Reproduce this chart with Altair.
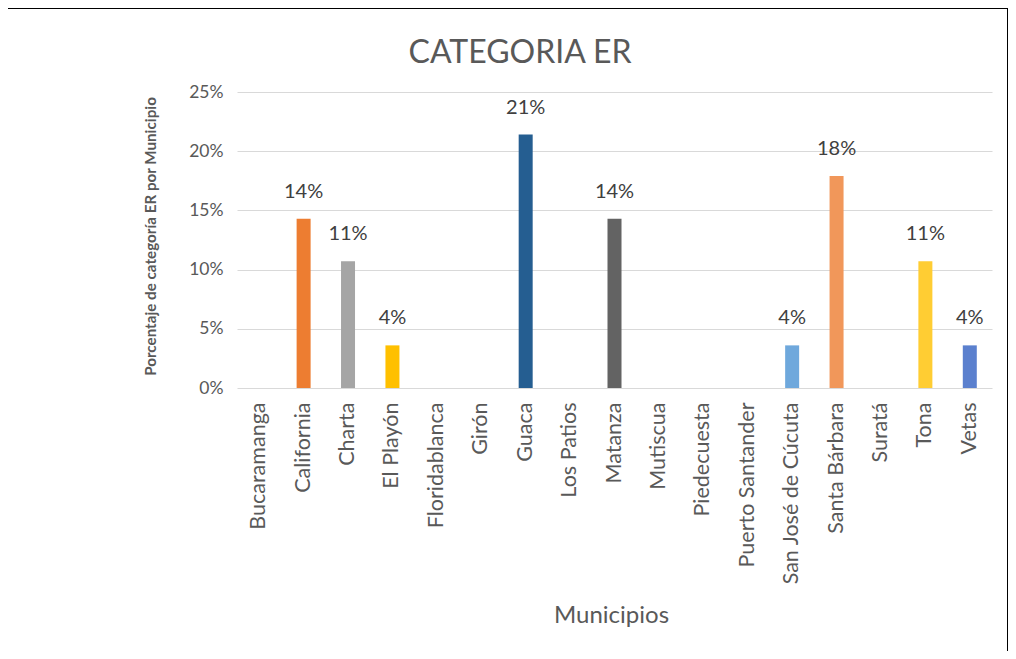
import altair as alt
import pandas as pd

municipios = ["Bucaramanga", "California", "Charta", "El Playón", "Floridablanca",
              "Girón", "Guaca", "Los Patios", "Matanza", "Mutiscua", "Piedecuesta",
              "Puerto Santander", "San José de Cúcuta", "Santa Bárbara", "Suratá",
              "Tona", "Vetas"]
valores = [0, 0.143, 0.107, 0.036, 0, 0, 0.214, 0, 0.143, 0, 0, 0, 0.036, 0.179, 0, 0.107, 0.036]
colores = ["#4472C4", "#ED7D31", "#A5A5A5", "#FFC000", "#5B9BD5", "#70AD47", "#255E91",
           "#9E480E", "#636363", "#997300", "#264478", "#43682B", "#6FA8DC", "#F1975A",
           "#B7B7B7", "#FFCD33", "#5B80CE"]
etiquetas = ["", "14%", "11%", "4%", "", "", "21%", "", "14%", "", "", "", "4%", "18%", "", "11%", "4%"]
titulo = ["CATEGORIA ER"]

df = pd.DataFrame({"Municipio": municipios, "Valor": valores, "Color": colores, "Etiqueta": etiquetas})

FONT = "Lato"
GRAY = "#595959"

x = alt.X("Municipio:N", sort=municipios,
          scale=alt.Scale(paddingInner=0.68, paddingOuter=0.34),
          axis=alt.Axis(title="Municipios", labelAngle=-90, labelFontSize=21.5,
                        labelColor=GRAY, labelFont=FONT, labelPadding=14, ticks=False,
                        labelLimit=400, domain=False, titleFont=FONT, titleFontSize=24,
                        titleColor=GRAY, titleFontWeight="normal", titleY=227,
                        titleX=374, titleBaseline="middle"))
y = alt.Y("Valor:Q", scale=alt.Scale(domain=[0, 0.25], nice=False),
          axis=alt.Axis(title="Porcentaje de categoría ER por Municipio", format=".0%",
                        values=[0, 0.05, 0.1, 0.15, 0.2, 0.25], labelFontSize=17.5,
                        labelColor=GRAY, labelFont=FONT, labelPadding=14, ticks=False,
                        domain=False, gridColor="#D9D9D9", gridWidth=1,
                        titleFont=FONT, titleFontSize=15.2, titleColor=GRAY,
                        titleFontWeight="bold", titleAngle=-90, titleX=-87, titleY=144,
                        titleAlign="center", titleBaseline="middle"))

bars = alt.Chart(df).mark_bar(size=14).encode(
    x=x, y=y, color=alt.Color("Color:N", scale=None))

labels = alt.Chart(df).mark_text(dy=-17, baseline="bottom", fontSize=20, font=FONT,
                                 color="#404040").encode(
    x=alt.X("Municipio:N", sort=municipios), y="Valor:Q", text="Etiqueta:N")

title = alt.Chart(pd.DataFrame({"t": titulo})).mark_text(
    fontSize=32, font=FONT, color=GRAY, baseline="middle", align="center").encode(
    x=alt.value(283), y=alt.value(-39), text="t:N")

border = alt.Chart(df).mark_rect(fill=None, stroke="#000000", strokeWidth=1).encode(
    x=alt.value(-230), x2=alt.value(771), y=alt.value(-84), y2=alt.value(600))

chart = alt.layer(bars, labels, title, border).properties(
    width=755, height=296,
    padding={"left": 229, "top": 84, "right": 16, "bottom": 263},
    autosize=alt.AutoSizeParams(type="none"),
).configure(background="white", view=alt.ViewConfig(stroke=None))

chart.save("out.html", embed_options={"renderer": "svg", "actions": False})
